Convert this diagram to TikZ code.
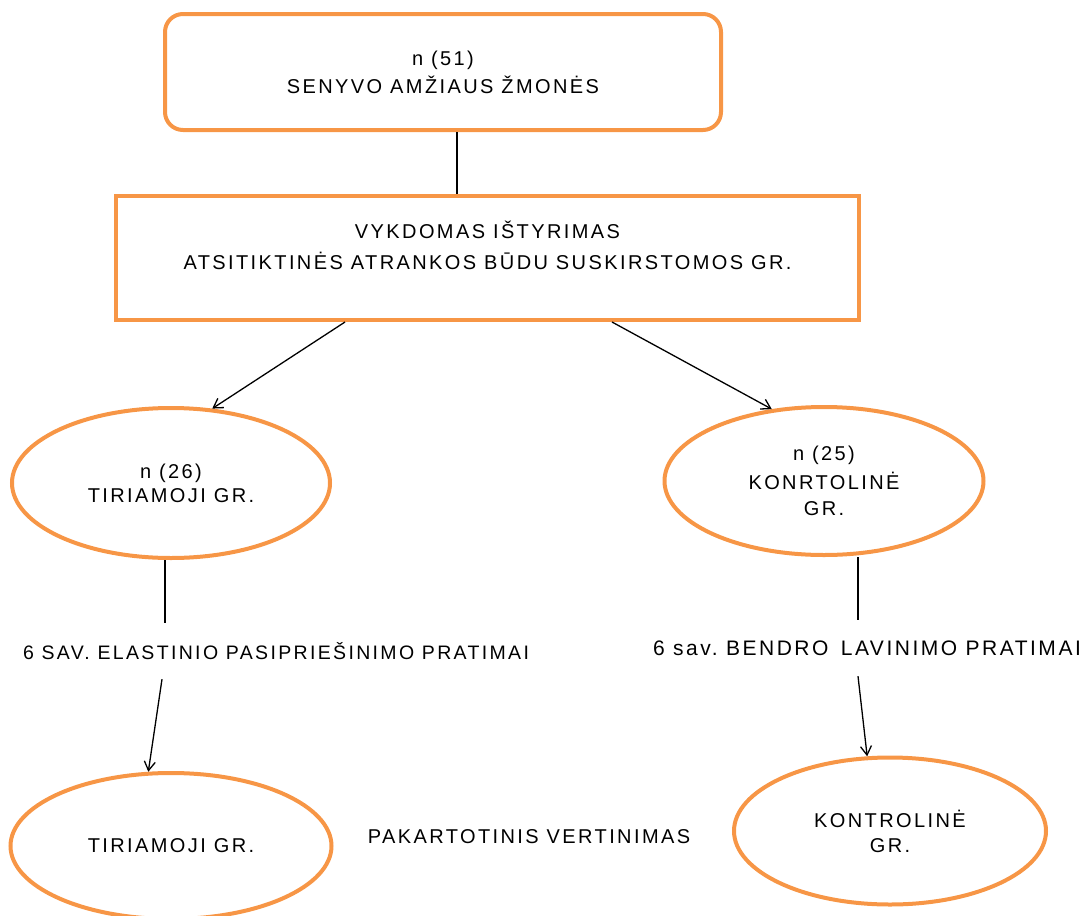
\documentclass[tikz,border=0pt]{standalone}
\usepackage{fontspec}
\setmainfont{Liberation Sans}[LetterSpace=12]
\usetikzlibrary{shapes.geometric,arrows.meta}
\definecolor{acc}{HTML}{F79646}
\tikzset{
  txt/.style={inner sep=0pt, align=center, font=\fontsize{20}{24}\selectfont},
  box/.style={txt, draw=acc, line width=4pt, rectangle},
  oval/.style={txt, draw=acc, line width=4pt, ellipse},
  lab/.style={txt, minimum height=56pt},
  conn/.style={black, line width=1.3pt},
  arr/.style={conn, -{Straight Barb[length=9pt,width=11pt]}}
}
\begin{document}
\begin{tikzpicture}[x=1pt,y=-1pt]
\useasboundingbox (0,0) rectangle (1085,916);
\node[box, rounded corners=18pt, minimum width=556pt, minimum height=116pt] (top) at (443,72)
  {n (51)\\[4pt]SENYVO AMŽIAUS ŽMONĖS};
\node[box, minimum width=743pt, minimum height=124pt] (mid) at (487.5,258)
  {VYKDOMAS IŠTYRIMAS\\[7pt]ATSITIKTINĖS ATRANKOS BŪDU SUSKIRSTOMOS GR.\\[1pt]\mbox{}};
\node[oval, minimum width=318pt, minimum height=150pt] (e1) at (171,483)
  {n (26)\\TIRIAMOJI GR.};
\node[oval, minimum width=319pt, minimum height=148pt] (e2) at (824,481)
  {n (25)\\[5pt]KONRTOLINĖ\\[2pt]GR.};
\node[oval, minimum width=321pt, minimum height=146pt] (e3) at (171,846)
  {TIRIAMOJI GR.};
\node[oval, minimum width=312pt, minimum height=147pt] (e4) at (890,831)
  {KONTROLINĖ\\[1pt]GR.};
\node[lab, font=\fontsize{19.5}{24}\selectfont] (l1) at (276,651) {6 SAV. ELASTINIO PASIPRIEŠINIMO PRATIMAI};
\node[lab, font=\fontsize{21}{24}\selectfont] (l2) at (867,648) {6 sav.\ BENDRO\hspace{4pt} LAVINIMO PRATIMAI};
\node[txt] (pak) at (529,837) {PAKARTOTINIS VERTINIMAS};
\draw[conn] ([xshift=14pt]top.south) -- ([xshift=14pt]top.south |- mid.north);
\draw[arr] ([xshift=-142.5pt]mid.south) -- (e1.61);
\draw[arr] ([xshift=124.5pt]mid.south) -- (e2.126);
\draw[conn] ([xshift=-6pt]e1.south) -- ([xshift=-6pt]e1.south |- l1.north);
\draw[arr] ([xshift=-114pt]l1.south) -- (e3.107);
\draw[conn] ([xshift=34pt]e2.south) -- ([xshift=34pt]e2.south |- l2.north);
\draw[arr] ([xshift=-9pt]l2.south) -- (e4.107);
\end{tikzpicture}
\end{document}
